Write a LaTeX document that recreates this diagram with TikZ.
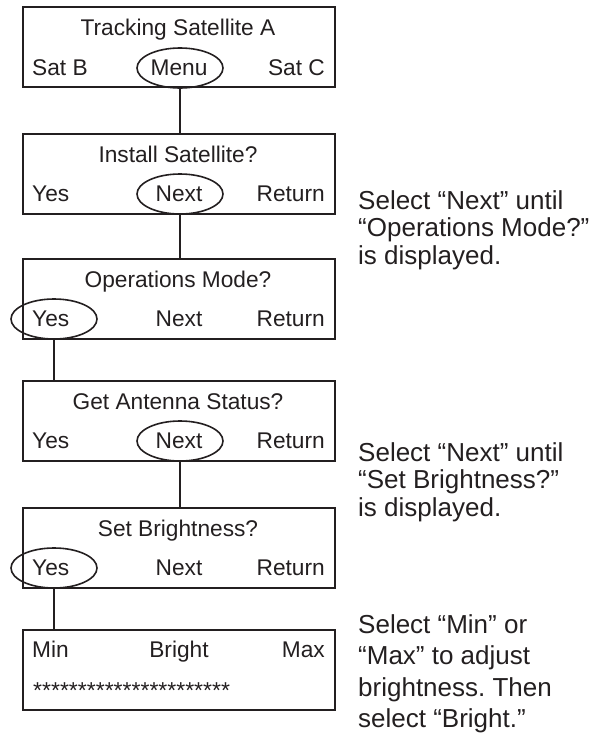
\documentclass[tikz,border=0pt]{standalone}
\usepackage{fontspec}
\setmainfont{Liberation Sans}
\usetikzlibrary{shapes.geometric}
\definecolor{ink}{HTML}{231F20}
\frenchspacing

\begin{document}
\begin{tikzpicture}[x=1pt, y=-1pt,
  screen/.style={draw=ink, line width=1.7pt, rectangle, anchor=north west,
                 minimum width=312pt, minimum height=80pt, inner sep=0pt},
  lbl/.style={font=\fontsize{22.7}{26}\selectfont, text=ink, inner sep=0pt},
  lblL/.style={lbl, anchor=base west},
  lblC/.style={lbl, anchor=base},
  lblR/.style={lbl, anchor=base east},
  note/.style={font=\fontsize{26}{28}\selectfont, text=ink, inner sep=0pt, anchor=base west},
  pick/.style={draw=ink, line width=1.6pt, ellipse, minimum width=86pt,
               minimum height=40pt, inner sep=0pt},
  link/.style={draw=ink, line width=1.8pt}]
\useasboundingbox (0,0) rectangle (597,734);

% --- screen 1: tracking
\node[screen] (s1) at (22,6) {};
\node[lblC] (s1t) at (178,35.5) {Tracking Satellite A};
\node[lblL] (s1l) at (32,75) {Sat B};
\node[lblC] (s1m) at (179,75) {Menu};
\node[lblR] (s1r) at (325,75) {Sat C};
\node[pick] (e1) at (180,68) {};

% --- screen 2: install
\node[screen] (s2) at (22,133) {};
\node[lblC] (s2t) at (178,162) {Install Satellite?};
\node[lblL] (s2l) at (32,201.5) {Yes};
\node[lblC] (s2m) at (179,201.5) {Next};
\node[lblR] (s2r) at (325,201.5) {Return};
\node[pick] (e2) at (180,194) {};

% --- screen 3: operations mode
\node[screen] (s3) at (22,258) {};
\node[lblC] (s3t) at (178,287) {Operations Mode?};
\node[lblL] (s3l) at (32,326.5) {Yes};
\node[lblC] (s3m) at (179,326.5) {Next};
\node[lblR] (s3r) at (325,326.5) {Return};
\node[pick] (e3) at (54,319) {};

% --- screen 4: antenna status
\node[screen] (s4) at (22,380) {};
\node[lblC] (s4t) at (178,409) {Get Antenna Status?};
\node[lblL] (s4l) at (32,448.5) {Yes};
\node[lblC] (s4m) at (179,448.5) {Next};
\node[lblR] (s4r) at (325,448.5) {Return};
\node[pick] (e4) at (180,441) {};

% --- screen 5: brightness
\node[screen] (s5) at (22,507) {};
\node[lblC] (s5t) at (178,536) {Set Brightness?};
\node[lblL] (s5l) at (32,575.5) {Yes};
\node[lblC] (s5m) at (179,575.5) {Next};
\node[lblR] (s5r) at (325,575.5) {Return};
\node[pick] (e5) at (54,568) {};

% --- screen 6: brightness adjust
\node[screen] (s6) at (22,629) {};
\node[lblL] (s6l) at (32,657) {Min};
\node[lblC] (s6m) at (179,657) {Bright};
\node[lblR] (s6r) at (325,657) {Max};
\node[font=\fontsize{23}{26}\selectfont, text=ink, inner sep=0pt, anchor=base west]
  (s6bar) at (33,698) {**********************};

% --- connectors between the screens
\draw[link] (e1.south) -- (e1.south |- s2.north);
\draw[link] (e2.south) -- (e2.south |- s3.north);
\draw[link] (e3.south) -- (e3.south |- s4.north);
\draw[link] (e4.south) -- (e4.south |- s5.north);
\draw[link] (e5.south) -- (e5.south |- s6.north);

% --- instructions
\node[note] (n1a) at (358,209.3) {Select “Next” until};
\node[note] (n1b) at (358,236.7) {“Operations Mode?”};
\node[note] (n1c) at (358,264)   {is displayed.};

\node[note] (n2a) at (358,461.5) {Select “Next” until};
\node[note] (n2b) at (358,488.8) {“Set Brightness?”};
\node[note] (n2c) at (358,516)   {is displayed.};

\node[note] (n3a) at (358,633) {Select “Min” or};
\node[note] (n3b) at (358,664) {“Max” to adjust};
\node[note] (n3c) at (358,696) {brightness. Then};
\node[note] (n3d) at (358,727) {select “Bright.”};
\end{tikzpicture}
\end{document}
